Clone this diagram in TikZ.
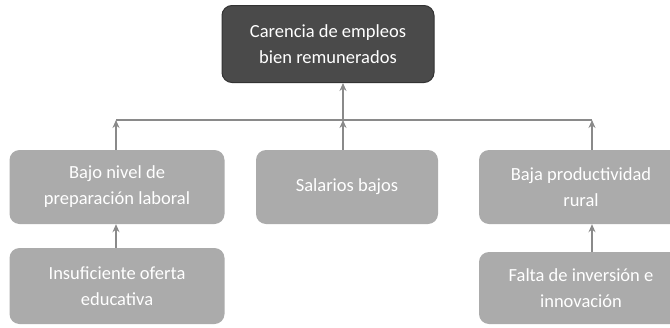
\documentclass[tikz,border=0pt]{standalone}
\usepackage{fontspec}
\setmainfont{Carlito}
\definecolor{boxdark}{HTML}{4A4A4A}
\definecolor{boxlight}{HTML}{ABABAB}
\definecolor{linegray}{HTML}{8A8A8A}
\usetikzlibrary{arrows.meta,positioning,calc}
\begin{document}
\begin{tikzpicture}[x=1pt, y=-1pt,
  cause/.style={fill=#1, rounded corners=10pt, text=white,
    font=\fontsize{18.5}{26}\selectfont, align=center,
    inner sep=0pt, minimum height=74pt},
  link/.style={-{Stealth[length=8pt,width=7pt]}, linegray, line width=1.2pt},
]
  \clip (0,0) rectangle (670,327);
  % Problem
  \node[cause=boxdark, draw=black!80, line width=1pt, minimum width=212pt, minimum height=77pt] (carencia) at (328,44) {Carencia de empleos\\bien remunerados};

  % Causes
  \node[cause=boxlight, minimum width=215pt] (nivel) at (117,187) {Bajo nivel de\\preparación laboral};
  \node[cause=boxlight, minimum width=182pt] (salarios) at (347,187) {Salarios bajos};
  \node[cause=boxlight, minimum width=204pt] (rural) at (581,187) {Baja productividad\\rural};

  % Sub-causes
  \node[cause=boxlight, minimum width=215pt, minimum height=76pt] (oferta) at (117,286) {Insuficiente oferta\\educativa};
  \node[cause=boxlight, minimum width=204pt, minimum height=72pt] (inversion) at (581,288) {Falta de inversión e\\innovación};

  % Bus
  \coordinate (busl) at (116,120);
  \coordinate (busm) at (343,120);
  \coordinate (busr) at (592,120);
  \draw[linegray, line width=1.2pt] (busl) -- (busr);

  % Arrows
  \draw[link] (busm) -- (carencia.south -| busm);
  \draw[link] (salarios.north -| busm) -- (busm);
  \draw[link] (nivel.north -| busl) -- (busl);
  \draw[link] (rural.north -| busr) -- (busr);
  \draw[link] (oferta.north -| busl) -- (nivel.south -| busl);
  \draw[link] (inversion.north -| busr) -- (rural.south -| busr);
\end{tikzpicture}
\end{document}
